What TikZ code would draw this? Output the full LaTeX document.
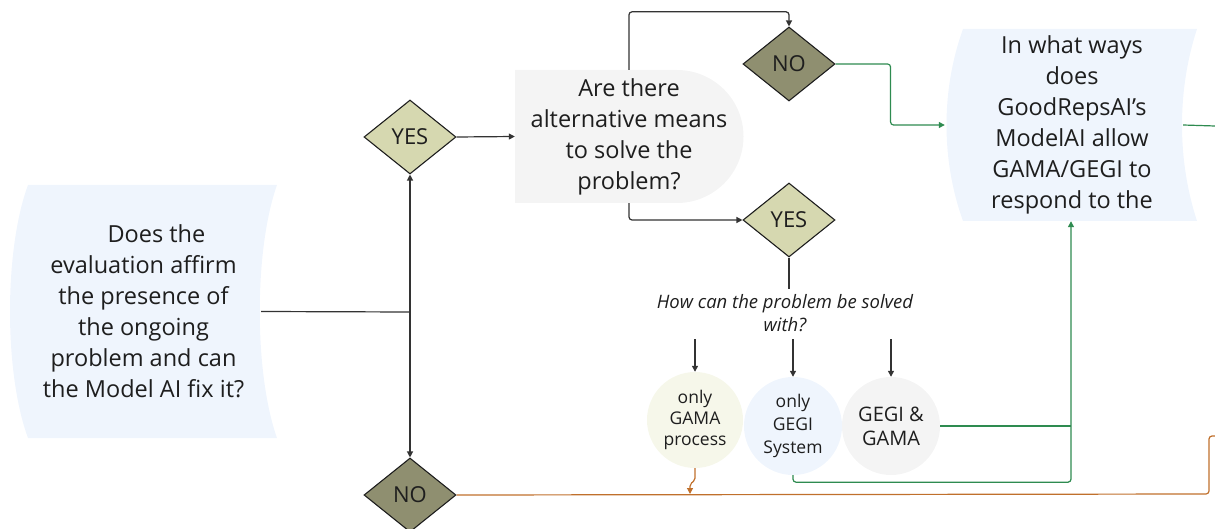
\documentclass[tikz,border=0pt]{standalone}
\usepackage{fontspec}
\setmainfont{Open Sans}
\usetikzlibrary{shapes.geometric,arrows.meta}

\definecolor{inkc}{HTML}{1E1E1E}
\definecolor{linec}{HTML}{333333}
\definecolor{paleblue}{HTML}{EFF5FD}
\definecolor{palegray}{HTML}{F4F4F4}
\definecolor{paleyellow}{HTML}{F6F7EA}
\definecolor{yesfill}{HTML}{D6D8B0}
\definecolor{nofill}{HTML}{8F8F70}
\definecolor{greenc}{HTML}{2E8B50}
\definecolor{orangec}{HTML}{C0702C}

\tikzset{
  conn/.style={draw=linec, line width=1.2pt, rounded corners=3pt},
  tip/.style={-{Triangle[length=6pt,width=6pt]}},
  gconn/.style={conn, draw=greenc},
  oconn/.style={conn, draw=orangec},
  decision/.style={diamond, draw=inkc, line width=1.1pt, inner sep=0pt,
    minimum width=92pt, minimum height=74pt, text=inkc,
    font=\fontsize{22}{24}\selectfont},
  yesbox/.style={decision, fill=yesfill},
  nobox/.style={decision, fill=nofill},
  bigtext/.style={align=center, text=inkc, inner sep=0pt,
    font=\fontsize{23.5}{31}\selectfont},
  option/.style={circle, inner sep=0pt, align=center, text=inkc},
}

\begin{document}
\begin{tikzpicture}[x=1pt, y=-1pt]
\useasboundingbox (0,0) rectangle (1215,529);

% backgrounds of the stored-data boxes and the rounded question box
\fill[paleblue] (28,185) -- (277,185) .. controls (254,250) and (254,373) .. (277,438)
  -- (28,438) .. controls (4,373) and (4,250) .. cycle;
\fill[paleblue] (963,29) -- (1197,29) .. controls (1177,90) and (1177,160) .. (1197,221)
  -- (963,221) .. controls (941,160) and (941,90) .. cycle;
\fill[palegray] (515,70) -- (677,70) arc[start angle=-90, end angle=90, radius=66.5]
  -- (515,203) -- cycle;

% texts of the boxes
\node[bigtext, minimum width=267pt, minimum height=253pt] (start) at (143.5,311.5)
  {\hspace*{1.1em}Does the\\evaluation affirm\\the presence of\\the ongoing\\problem and can\\the Model AI fix it?};
\node[bigtext, minimum width=228pt, minimum height=133pt] (alt) at (629,136.5)
  {Are there\\alternative means\\to solve the\\problem?};
\node[bigtext, minimum width=250pt, minimum height=192pt] (ways) at (1072,125)
  {In what ways\\does\\GoodRepsAI’s\\ModelAI allow\\GAMA/GEGI to\\respond to the};

% decisions
\node[yesbox] (yesA) at (410,137) {YES};
\node[nobox]  (noA)  at (410,495) {NO};
\node[nobox]  (noB)  at (789,64)  {NO};
\node[yesbox] (yesB) at (789,220) {YES};

% question leading to the three options
\node[align=center, text=inkc, inner sep=0pt, font=\fontsize{18.5}{23}\selectfont\itshape]
  (how) at (785,313) {How can the problem be solved\\with?};

\node[option, fill=paleyellow, minimum size=96pt, font=\fontsize{17.5}{21}\selectfont]
  (gama) at (695,420) {only\\GAMA\\process};
\node[option, fill=paleblue, minimum size=98pt, font=\fontsize{17.5}{23}\selectfont]
  (gegi) at (793,426) {only\\GEGI\\System};
\node[option, fill=palegray, minimum size=98pt, font=\fontsize{20}{24}\selectfont]
  (both) at (891,426) {GEGI \&\\GAMA};

% junction points and free ends
\coordinate (split) at (410,312);
\coordinate (greenup) at (1071,426);
\coordinate (outgreen) at (1215,126);
\coordinate (outorange) at (1215,436);

% connectors from the first question
\draw[conn] ([xshift=-16pt]start.east) -- (split);
\draw[conn, tip] (split) -- (yesA.south);
\draw[conn, tip] (split) -- (noA.north);
\draw[conn, tip] (yesA.east) -- (alt.west);

% connectors from the alternative-means question
\draw[conn, tip] (alt.north) -- ++(0,-58) -| (noB.north);
\draw[conn, tip] (alt.south) |- (yesB.west);
\draw[gconn, tip] (noB.east) -- ++(55,0) |- ([xshift=-2pt]ways.west);
\draw[conn] (yesB.south) -- ++(0,31);

% arrows into the three options
\draw[conn, tip] (gama.north |- 0,339) -- (gama.north);
\draw[conn, tip] (gegi.north |- 0,339) -- (gegi.north);
\draw[conn, tip] (both.north |- 0,339) -- (both.north);

% green paths into the ways box
\draw[gconn, tip] (gegi.south) -- ++(0,7) -| ([xshift=-1pt]ways.south);
\draw[gconn] (both.east) -- (greenup);
\draw[gconn] ([xshift=-14pt]ways.east) -- (outgreen);

% orange path from the negative answer
\draw[oconn] (noA.east) -- (1209,494) -- (1209,436) -- (outorange);
\draw[oconn, tip, rounded corners=2pt] (gama.south) -- ++(0,12) -- ++(-5,4) -- (690,494);

\end{tikzpicture}
\end{document}
